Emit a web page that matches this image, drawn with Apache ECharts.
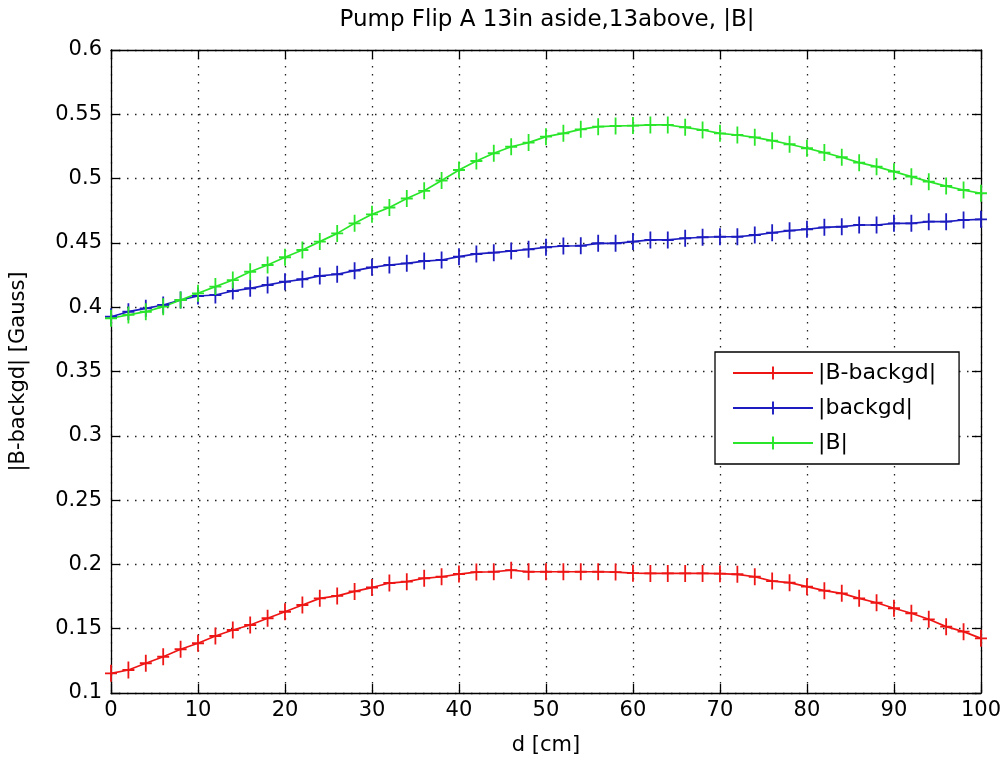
<!DOCTYPE html>
<html>
<head>
<meta charset="utf-8">
<script src="https://cdn.jsdelivr.net/npm/echarts@6/dist/echarts.min.js"></script>
<style>
html,body{margin:0;padding:0;background:#fff;}
#chart{width:1004px;height:765px;}
</style>
</head>
<body>
<div id="chart"></div>
<script>
var titleText = 'Pump Flip A 13in aside,13above, |B|';
var xName = 'd [cm]';
var yName = '|B-backgd| [Gauss]';
var seriesNames = ['|B-backgd|', '|backgd|', '|B|'];

var dValues = [0,2,4,6,8,10,12,14,16,18,20,22,24,26,28,30,32,34,36,38,40,42,44,46,48,50,
  52,54,56,58,60,62,64,66,68,70,72,74,76,78,80,82,84,86,88,90,92,94,96,98,100];

var bMinusBackgd = [0.1153,0.1179,0.1231,0.1282,0.1340,0.1387,0.1443,0.1490,0.1529,0.1581,
  0.1632,0.1684,0.1736,0.1755,0.1790,0.1820,0.1855,0.1866,0.1892,0.1904,
  0.1925,0.1940,0.1943,0.1955,0.1943,0.1943,0.1943,0.1943,0.1943,0.1940,
  0.1932,0.1930,0.1930,0.1930,0.1930,0.1928,0.1923,0.1904,0.1870,0.1858,
  0.1827,0.1796,0.1775,0.1736,0.1702,0.1659,0.1620,0.1573,0.1516,0.1477,0.1425];

var backgd = [0.3926,0.3965,0.3991,0.4017,0.4056,0.4087,0.4095,0.4126,0.4147,0.4173,
  0.4198,0.4217,0.4243,0.4256,0.4284,0.4310,0.4328,0.4341,0.4359,0.4367,
  0.4393,0.4414,0.4424,0.4437,0.4450,0.4466,0.4476,0.4478,0.4497,0.4497,
  0.4510,0.4523,0.4523,0.4536,0.4544,0.4548,0.4548,0.4561,0.4579,0.4595,
  0.4606,0.4621,0.4626,0.4639,0.4639,0.4652,0.4652,0.4665,0.4665,0.4678,0.4683];

var bTotal = [0.3914,0.3940,0.3965,0.4004,0.4056,0.4108,0.4160,0.4211,0.4276,0.4328,
  0.4388,0.4445,0.4510,0.4574,0.4652,0.4722,0.4775,0.4845,0.4905,0.4985,
  0.5067,0.5137,0.5197,0.5248,0.5280,0.5326,0.5352,0.5383,0.5404,0.5409,
  0.5412,0.5417,0.5417,0.5399,0.5378,0.5352,0.5339,0.5321,0.5295,0.5267,
  0.5236,0.5202,0.5166,0.5124,0.5093,0.5054,0.5015,0.4976,0.4942,0.4911,0.4886];

var colors = ['#ee1515', '#1c1cc0', '#2ae62a'];

var FONT = "'DejaVu Sans', Verdana, sans-serif";
var plusPath = 'path://M-0.15,-1L0.15,-1L0.15,1L-0.15,1Z M-1,-0.11L1,-0.11L1,0.11L-1,0.11Z';

function pairs(ys) {
  return dValues.map(function (d, i) { return [d, ys[i]]; });
}

function mkSeries(name, ys, color) {
  return {
    name: name,
    type: 'line',
    data: pairs(ys),
    symbol: plusPath,
    symbolSize: [12, 17],
    showAllSymbol: true,
    lineStyle: { color: color, width: 1.7 },
    itemStyle: { color: color },
    emphasis: { disabled: true },
    animation: false
  };
}

var axisLineStyle = { color: '#000', width: 1.3 };
var splitStyle = { show: true, lineStyle: { color: '#222', width: 1.3, type: [1.5, 6.5] } };

var chart = echarts.init(document.getElementById('chart'), null, { renderer: 'canvas' });
chart.setOption({
  backgroundColor: '#fff',
  animation: false,
  title: {
    text: titleText,
    left: 542,
    top: 4,
    textAlign: 'center',
    textStyle: { fontFamily: FONT, fontSize: 23, fontWeight: 'normal', color: '#000' }
  },
  grid: { left: 111, right: 22, top: 50, bottom: 72, show: false },
  legend: {
    data: seriesNames,
    orient: 'vertical',
    left: 715,
    top: 352,
    padding: [10, 23, 10, 17],
    itemGap: 13,
    itemWidth: 80,
    itemHeight: 16,
    borderColor: '#000',
    borderWidth: 1.3,
    backgroundColor: '#fff',
    selectedMode: false,
    textStyle: { fontFamily: FONT, fontSize: 22, color: '#000' }
  },
  xAxis: [{
    type: 'value',
    min: 0, max: 100, interval: 10,
    name: xName,
    nameLocation: 'middle',
    nameGap: 42,
    nameTextStyle: { fontFamily: FONT, fontSize: 21, color: '#000' },
    axisLine: { show: true, onZero: false, lineStyle: axisLineStyle },
    axisTick: { show: true, inside: true, length: 9, lineStyle: axisLineStyle },
    axisLabel: { fontFamily: FONT, fontSize: 21, color: '#000', margin: 7 },
    splitLine: splitStyle
  }, {
    type: 'value', position: 'top',
    min: 0, max: 100, interval: 10,
    axisLine: { show: true, onZero: false, lineStyle: axisLineStyle },
    axisTick: { show: true, inside: true, length: 9, lineStyle: axisLineStyle },
    axisLabel: { show: false },
    splitLine: { show: false }
  }],
  yAxis: [{
    type: 'value',
    min: 0.1, max: 0.6, interval: 0.05,
    name: yName,
    nameLocation: 'middle',
    nameGap: 82,
    nameRotate: 90,
    nameTextStyle: { fontFamily: FONT, fontSize: 21, color: '#000' },
    axisLine: { show: true, onZero: false, lineStyle: axisLineStyle },
    axisTick: { show: true, inside: true, length: 9, lineStyle: axisLineStyle },
    axisLabel: {
      fontFamily: FONT, fontSize: 21, color: '#000', margin: 9,
      formatter: function (v) { return String(parseFloat(v.toFixed(2))); }
    },
    splitLine: splitStyle
  }, {
    type: 'value', position: 'right',
    min: 0.1, max: 0.6, interval: 0.05,
    axisLine: { show: true, onZero: false, lineStyle: axisLineStyle },
    axisTick: { show: true, inside: true, length: 9, lineStyle: axisLineStyle },
    axisLabel: { show: false },
    splitLine: { show: false }
  }],
  series: [
    mkSeries(seriesNames[0], bMinusBackgd, colors[0]),
    mkSeries(seriesNames[1], backgd, colors[1]),
    mkSeries(seriesNames[2], bTotal, colors[2])
  ]
});
</script>
</body>
</html>
